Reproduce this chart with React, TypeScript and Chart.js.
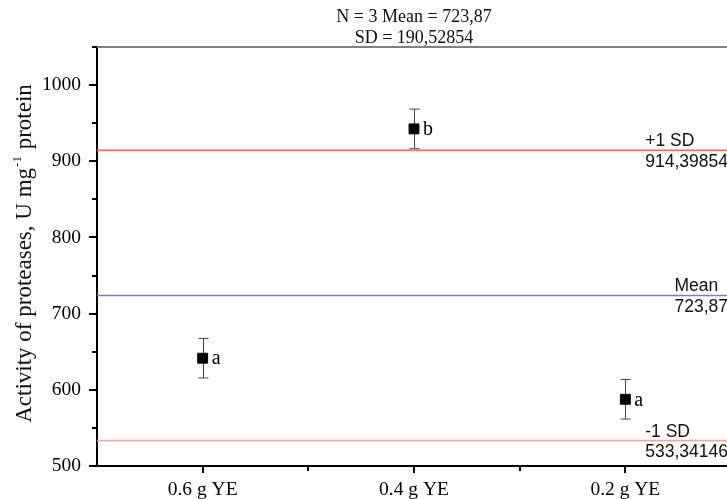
import React, { useEffect, useRef } from 'react';
import { Chart, registerables } from 'chart.js';

Chart.register(...registerables);

const categories = ['0.6 g YE', '0.4 g YE', '0.2 g YE'];
const values = [641.5, 942.5, 587.6];
const errors = [26, 26, 26];
const letters = ['a', 'b', 'a'];

const refValues = [914.39854, 723.87, 533.34146];
const refLabels = ['+1 SD', 'Mean', '-1 SD'];
const refNumbers = ['914,39854', '723,87', '533,34146'];
const refColors = ['#ff6060', '#7878e8', '#ffa0a0'];

const yMajorTicks = [500, 600, 700, 800, 900, 1000];
const yMinorTicks = [550, 650, 750, 850, 950, 1050];
const xMajorTicks = [1, 2, 3];
const xMinorTicks = [1.5, 2.5];

const titleLines = ['N = 3 Mean = 723,87', 'SD = 190,52854'];
const yTitleMain = 'Activity of proteases, U mg';
const yTitleSup = '-1';
const yTitleEnd = ' protein';

const SERIF = '"Liberation Serif", "Times New Roman", serif';
const SANS = '"Liberation Sans", Arial, sans-serif';

const decorPlugin = {
  id: 'decor',
  beforeDatasetsDraw(chart: any) {
    const ctx = chart.ctx;
    const xs = chart.scales.x;
    const ys = chart.scales.y;
    ctx.save();
    ctx.strokeStyle = '#444';
    ctx.lineWidth = 1;
    values.forEach((v, i) => {
      const x = Math.round(xs.getPixelForValue(i + 1)) + 0.5;
      const y1 = ys.getPixelForValue(v + errors[i]);
      const y2 = ys.getPixelForValue(v - errors[i]);
      ctx.beginPath();
      ctx.moveTo(x, y1);
      ctx.lineTo(x, y2);
      ctx.moveTo(x - 5, y1);
      ctx.lineTo(x + 5, y1);
      ctx.moveTo(x - 5, y2);
      ctx.lineTo(x + 5, y2);
      ctx.stroke();
    });
    ctx.restore();
  },
  afterDraw(chart: any) {
    const ctx = chart.ctx;
    const { left, right, top, bottom } = chart.chartArea;
    const xs = chart.scales.x;
    const ys = chart.scales.y;
    ctx.save();

    // top frame line
    ctx.strokeStyle = '#808080';
    ctx.lineWidth = 2;
    ctx.beginPath();
    ctx.moveTo(left, top);
    ctx.lineTo(right + 10, top);
    ctx.stroke();

    // ticks
    ctx.strokeStyle = '#000';
    ctx.lineWidth = 2;
    ctx.beginPath();
    yMajorTicks.forEach((v) => {
      const p = Math.round(ys.getPixelForValue(v));
      ctx.moveTo(left, p);
      ctx.lineTo(left - 8, p);
    });
    yMinorTicks.forEach((v) => {
      const p = Math.round(ys.getPixelForValue(v));
      ctx.moveTo(left, p);
      ctx.lineTo(left - 5, p);
    });
    xMajorTicks.forEach((v) => {
      const p = Math.round(xs.getPixelForValue(v));
      ctx.moveTo(p, bottom);
      ctx.lineTo(p, bottom + 7);
    });
    xMinorTicks.forEach((v) => {
      const p = Math.round(xs.getPixelForValue(v));
      ctx.moveTo(p, bottom);
      ctx.lineTo(p, bottom + 5);
    });
    ctx.stroke();

    // letters beside markers
    ctx.fillStyle = '#000';
    ctx.font = `20px ${SERIF}`;
    ctx.textAlign = 'left';
    ctx.textBaseline = 'middle';
    values.forEach((v, i) => {
      const x = xs.getPixelForValue(i + 1);
      const y = ys.getPixelForValue(v);
      ctx.fillText(letters[i], x + 9, y + 1);
    });

    // reference line labels
    ctx.font = `17.5px ${SANS}`;
    ctx.fillStyle = '#111';
    refValues.forEach((v, i) => {
      const y = ys.getPixelForValue(v);
      const w = ctx.measureText(refNumbers[i]).width;
      const x0 = right - 3 - w;
      ctx.textBaseline = 'alphabetic';
      ctx.fillText(refLabels[i], x0, y - 4);
      ctx.textBaseline = 'top';
      ctx.fillText(refNumbers[i], x0, y + 3);
    });

    // title
    ctx.font = `18px ${SERIF}`;
    ctx.textAlign = 'center';
    ctx.textBaseline = 'alphabetic';
    const cx = (left + right) / 2;
    ctx.fillText(titleLines[0], cx, 22);
    ctx.fillText(titleLines[1], cx, 43);

    // y-axis title with superscript
    ctx.translate(31, (top + bottom) / 2 - 3);
    ctx.rotate(-Math.PI / 2);
    ctx.textAlign = 'left';
    ctx.font = `23px ${SERIF}`;
    const w1 = ctx.measureText(yTitleMain).width;
    const w3 = ctx.measureText(yTitleEnd).width;
    ctx.font = `13px ${SERIF}`;
    const w2 = ctx.measureText(yTitleSup).width;
    const total = w1 + w2 + w3 + 2;
    let sx = -total / 2;
    ctx.font = `23px ${SERIF}`;
    ctx.fillText(yTitleMain, sx, 0);
    sx += w1 + 1;
    ctx.font = `13px ${SERIF}`;
    ctx.fillText(yTitleSup, sx, -10);
    sx += w2 + 1;
    ctx.font = `23px ${SERIF}`;
    ctx.fillText(yTitleEnd, sx, 0);

    ctx.restore();
  },
};

export default function App() {
  const canvasRef = useRef<HTMLCanvasElement | null>(null);

  useEffect(() => {
    if (!canvasRef.current) return;
    const refDatasets = refValues.map((v, i) => ({
      type: 'line' as const,
      data: [
        { x: 0.5, y: v },
        { x: 3.5, y: v },
      ],
      borderColor: refColors[i],
      borderWidth: 1.5,
      pointRadius: 0,
      fill: false,
      order: 2,
    }));
    const chart = new Chart(canvasRef.current, {
      type: 'scatter',
      data: {
        datasets: [
          {
            type: 'scatter' as const,
            data: values.map((v, i) => ({ x: i + 1, y: v })),
            pointStyle: 'rect',
            pointRadius: 7,
            backgroundColor: '#000',
            borderColor: '#000',
            borderWidth: 1,
            order: 1,
          },
          ...refDatasets,
        ] as any,
      },
      options: {
        responsive: false,
        animation: false,
        layout: { padding: { top: 47, right: 9, left: 0, bottom: 0 } },
        plugins: {
          legend: { display: false },
          tooltip: { enabled: false },
          title: { display: false },
        },
        scales: {
          x: {
            type: 'linear',
            min: 0.5,
            max: 3.5,
            afterBuildTicks: (scale: any) => {
              scale.ticks = xMajorTicks.map((v) => ({ value: v }));
            },
            afterFit: (scale: any) => {
              scale.height = 33;
            },
            ticks: {
              callback: (v: any) => categories[Math.round(Number(v)) - 1] ?? '',
              font: { family: SERIF, size: 19.5 },
              color: '#000',
              padding: 4,
              maxRotation: 0,
            },
            grid: { display: false },
            border: { display: true, color: '#000', width: 2 },
          },
          y: {
            type: 'linear',
            min: 500,
            max: 1050,
            afterBuildTicks: (scale: any) => {
              scale.ticks = yMajorTicks.map((v) => ({ value: v }));
            },
            afterFit: (scale: any) => {
              scale.width = 97;
            },
            ticks: {
              callback: (v: any) => String(v),
              font: { family: SERIF, size: 19.5 },
              color: '#000',
              padding: 8,
            },
            grid: { display: false },
            border: { display: true, color: '#000', width: 2 },
          },
        },
      } as any,
      plugins: [decorPlugin],
    });
    return () => chart.destroy();
  }, []);

  return (
    <div
      style={{
        position: 'fixed',
        left: 0,
        top: 0,
        width: 727,
        height: 499,
        overflow: 'hidden',
        background: '#fff',
      }}
    >
      <canvas ref={canvasRef} width={740} height={499} style={{ display: 'block' }} />
    </div>
  );
}
